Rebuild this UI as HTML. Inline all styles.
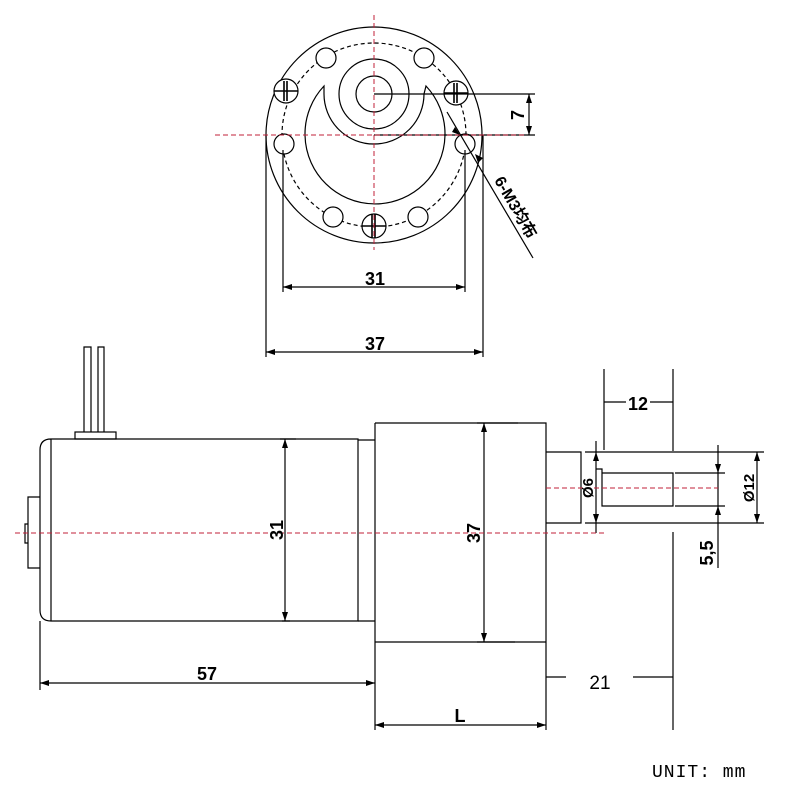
<!DOCTYPE html><html><head><style>body{margin:0;background:#fff}svg{display:block}</style></head><body>
<svg width="800" height="800" viewBox="0 0 800 800" xmlns="http://www.w3.org/2000/svg" font-family="Liberation Sans, Noto Sans CJK SC, sans-serif">
<g stroke="#000" stroke-width="1.2" fill="none">
<circle cx="374" cy="135" r="108"/>
<circle cx="374" cy="135" r="92" stroke-dasharray="4,3"/>
<path d="M324,86 A70 70 0 1 0 426,86 L424,94 A50 50 0 1 1 324,94 Z"/>
<circle cx="374" cy="94" r="35"/>
<circle cx="374" cy="94" r="18"/>
<circle cx="326" cy="58" r="10" fill="#fff"/><circle cx="424" cy="58" r="10" fill="#fff"/>
<circle cx="284" cy="144" r="10" fill="#fff"/><circle cx="465" cy="144" r="10" fill="#fff"/>
<circle cx="333" cy="217" r="10" fill="#fff"/><circle cx="418" cy="217" r="10" fill="#fff"/>
<circle cx="286" cy="91" r="12" fill="#fff"/><circle cx="456" cy="93" r="12" fill="#fff"/><circle cx="374" cy="226" r="12" fill="#fff"/>
<path d="M274,91h24M284,81v20M287,81v20M444,93h24M454,83v20M457,83v20M362,226h24M372,214v24M375,214v24" stroke-width="1.6"/>
<path d="M266,135V357M483,135V357M283,150V292M465,150V292"/>
<path d="M283,287H465M266,352H483"/>
<path d="M374,94H535M374,135H535M529,94V135"/>
<path d="M447,112L533,258"/>
<path d="M51,439H358V621H51M51,439V621M51,439Q40,439 40,450V610Q40,621 51,621"/>
<path d="M358,440H375M358,621H375"/>
<rect x="75" y="432" width="41" height="7"/>
<path d="M84,432V347H91V432M98,432V347H104V432"/>
<path d="M40,497H28V568H40M28,524H25V543H28"/>
<path d="M285,439V621M280,439H296M282,621H290"/>
<path d="M40,621V690M40,683H375"/>
<path d="M375,423H546V730M375,423V730M375,642H546"/>
<path d="M484,423V642M477,423H518M477,642H515"/>
<path d="M375,725H546"/>
<path d="M546,452H581V523H546M581,452V523M585,452H764M585,523H764"/>
<path d="M602,473H673V506H602V469H596M675,473H725M675,506H725"/>
<path d="M596,441V533M718,445V568M757,452V523"/>
<path d="M604,369V450M673,369V451M604,402H626M650,402H673"/>
<path d="M673,532V730M546,677H566M633,677H673"/>
</g>
<g fill="#000">
<path d="M529,94l-3,9h6zM529,135l-3,-9h6z"/>
<path d="M283,287l9,-3v6zM465,287l-9,-3v6zM266,352l9,-3v6zM483,352l-9,-3v6z"/>
<path d="M285,439l-3,9h6zM285,621l-3,-9h6zM40,683l9,-3v6zM375,683l-9,-3v6z"/>
<path d="M484,423l-3,9h6zM484,642l-3,-9h6zM375,725l9,-3v6zM546,725l-9,-3v6z"/>
<path d="M596,452l-3,9h6zM596,523l-3,-9h6zM718,473l-3,-9h6zM718,506l-3,9h6zM757,452l-3,9h6zM757,523l-3,-9h6z"/>
<path d="M455,127l5,8l-8,-3zM478,163l-3,-9l8,4z"/>
</g>
<g stroke="#c0203a" stroke-width="1" stroke-dasharray="5,3" fill="none">
<path d="M374,15V250M215,135H525M15,533H605M546,488H718"/>
</g>
<g font-size="18" font-weight="bold" text-anchor="middle" fill="#000">
<text x="375" y="285">31</text>
<text x="375" y="350">37</text>
<text x="207" y="680">57</text>
<text x="460" y="722">L</text>
<text x="638" y="410">12</text>
<text x="600" y="689" font-weight="normal" font-size="19">21</text>
<text transform="translate(524,115) rotate(-90)">7</text>
<text transform="translate(283,530) rotate(-90)">31</text>
<text transform="translate(480,533) rotate(-90)">37</text>
<text transform="translate(713,553) rotate(-90)">5,5</text>
<text transform="translate(593,488) rotate(-90)" font-size="15">Ø6</text>
<text transform="translate(754,488) rotate(-90)" font-size="15">Ø12</text>
<text transform="translate(511,210) rotate(60)" font-size="16">6-M3均布</text>
</g>
<text x="652" y="777" font-family="Liberation Mono, monospace" font-size="18" letter-spacing="1">UNIT: mm</text>
</svg></body></html>
